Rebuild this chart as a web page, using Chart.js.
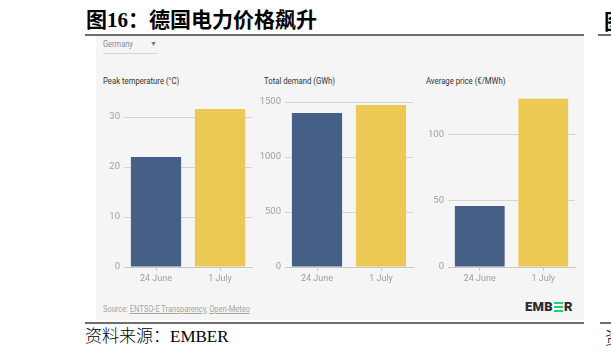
<!DOCTYPE html>
<html><head><meta charset="utf-8">
<script src="https://cdn.jsdelivr.net/npm/chart.js@4.4.0/dist/chart.umd.min.js"></script>
<style>
html,body{margin:0;padding:0;background:#fff;width:611px;height:357px;overflow:hidden;position:relative;font-family:Roboto,"Noto Sans",sans-serif;}
.abs{position:absolute;white-space:nowrap;}
#title{left:86px;top:6px;font-size:21px;font-weight:bold;font-family:"Liberation Serif","Noto Sans CJK SC",serif;color:#000;line-height:28px;}
.hline{position:absolute;height:2px;background:#6e6e6e;}
#panel{left:96px;top:36px;width:488px;height:284px;background:#f5f5f5;}
.ptitle{font-size:9px;color:#333;transform-origin:left center;transform:scaleX(0.86);line-height:12px;}
canvas{position:absolute;}
#src{left:103px;top:304px;font-size:8.5px;color:#a5a5a5;transform-origin:left center;transform:scaleX(0.88);}
#src u{text-decoration:underline;}
#foot{left:85px;top:326px;font-size:17px;font-weight:300;font-family:"Liberation Serif","Noto Sans CJK SC",serif;color:#000;line-height:22px;}
#logo{left:525px;top:300px;font-size:13px;font-weight:900;color:#2b2b2b;font-family:Roboto,sans-serif;letter-spacing:0.3px;line-height:14px;}
.bars{display:inline-block;width:9px;height:10px;position:relative;vertical-align:-1px;margin:0 1px;}
.bars i{position:absolute;left:0;width:9px;height:2.4px;background:#1fd07a;}
</style></head>
<body>
<div id="title" class="abs">图16：德国电力价格飙升</div>
<div class="hline" style="left:85px;top:34px;width:499px;"></div>
<div class="abs" style="left:604px;top:6px;font-size:21px;font-weight:bold;font-family:'Noto Sans CJK SC';line-height:28px;">图</div>
<div class="hline" style="left:598px;top:34px;width:13px;"></div>
<div id="panel" class="abs"></div>
<div class="abs" style="left:103px;top:38px;font-size:8.5px;color:#8a8a8a;line-height:12px;transform-origin:left center;transform:scaleX(0.88);">Germany</div>
<div class="abs" style="left:150px;top:38px;font-size:7px;color:#777;line-height:12px;">▼</div>
<div class="abs" style="left:103px;top:53px;width:55px;height:1px;background:#d8d8d8;"></div>
<div class="abs ptitle" style="left:103px;top:75px;">Peak temperature (°C)</div>
<div class="abs ptitle" style="left:264px;top:75px;">Total demand (GWh)</div>
<div class="abs ptitle" style="left:426px;top:75px;">Average price (€/MWh)</div>
<canvas id="c1" style="left:96px;top:85px;width:162px;height:205px;" width="162" height="205"></canvas>
<canvas id="c2" style="left:258px;top:85px;width:162px;height:205px;" width="162" height="205"></canvas>
<canvas id="c3" style="left:420px;top:85px;width:164px;height:205px;" width="164" height="205"></canvas>
<div id="src" class="abs">Source: <u>ENTSO-E Transparency</u>, <u>Open-Meteo</u></div>
<div id="logo" class="abs">EMB<span class="bars"><i style="top:0"></i><i style="top:3.8px"></i><i style="top:7.6px"></i></span>R</div>
<div class="hline" style="left:85px;top:322px;width:499px;"></div>
<div class="hline" style="left:600px;top:322px;width:11px;"></div>
<div id="foot" class="abs">资料来源：EMBER</div>
<div class="abs" style="left:605px;top:326px;font-size:17px;font-weight:300;font-family:'Noto Sans CJK SC';line-height:22px;">资</div>
<script>
const categories = ['24 June', '1 July'];
const peakTemperature = [22, 31.6];
const totalDemand = [1400, 1473];
const averagePrice = [46, 127];
const tempTicks = {max: 33, step: 10};
const demandTicks = {max: 1500, step: 500};
const priceTicks = {max: 130, step: 50};

const BLUE = '#465f87';
const YELLOW = '#ebc954';

function makeChart(id, values, axis, yWidth, padTop, padRight) {
  new Chart(document.getElementById(id), {
    type: 'bar',
    data: {
      labels: categories,
      datasets: [{
        data: values,
        backgroundColor: [BLUE, YELLOW],
        borderWidth: 0,
        barPercentage: 0.8,
        categoryPercentage: 0.98
      }]
    },
    options: {
      responsive: false,
      animation: false,
      devicePixelRatio: 1,
      layout: {padding: {top: padTop, right: padRight, left: 0, bottom: 0}},
      plugins: {legend: {display: false}, tooltip: {enabled: false}},
      scales: {
        x: {
          grid: {display: true, drawOnChartArea: false, drawTicks: true, tickLength: 4, offset: false, color: '#c8c8c8'},
          border: {display: true, color: '#c8c8c8'},
          ticks: {color: '#a0a0a0', font: {family: 'Roboto', size: 9}, padding: 2, maxRotation: 0},
          afterFit: s => { s.height = 23; }
        },
        y: {
          min: 0,
          max: axis.max,
          grid: {color: '#d4d4d4', drawTicks: false},
          border: {display: false},
          ticks: {stepSize: axis.step, includeBounds: false, color: '#a0a0a0', font: {family: 'Roboto', size: 9.5}, padding: 4,
                  callback: v => String(v)},
          afterFit: s => { s.width = yWidth; }
        }
      }
    }
  });
}
makeChart('c1', peakTemperature, tempTicks, 28, 17, 6);
makeChart('c2', totalDemand, demandTicks, 27, 17, 7);
makeChart('c3', averagePrice, priceTicks, 28, 6.5, 9);
</script>
</body></html>
